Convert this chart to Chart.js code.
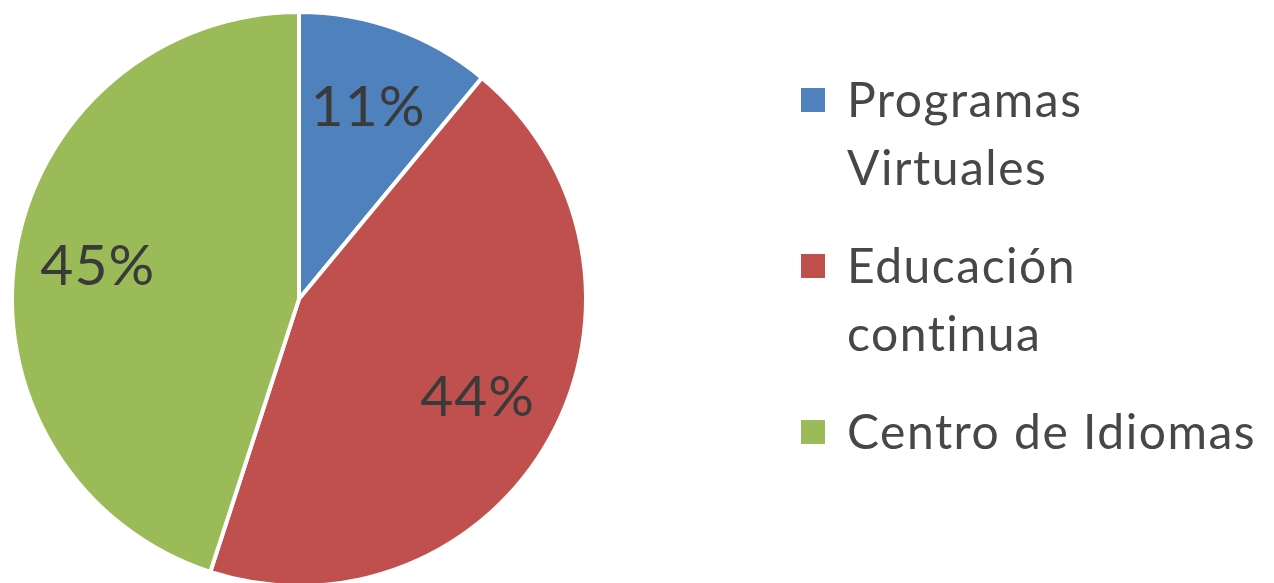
<!DOCTYPE html>
<html>
<head>
<meta charset="utf-8">
<script src="https://cdn.jsdelivr.net/npm/chart.js@4/dist/chart.umd.min.js"></script>
<style>
  html, body { margin: 0; padding: 0; background: #fff; overflow: hidden; }
  #wrap { position: relative; width: 1274px; height: 595px; }
</style>
</head>
<body>
<div id="wrap"><canvas id="myChart-pie"></canvas></div>
<script>
// categories (legend lines) and shares in percent
const labels = [
  ['Programas', 'Virtuales'],
  ['Educación', 'continua'],
  ['Centro de Idiomas']
];
const shares = [11, 44, 45];
const colors = ['#4f81bd', '#c0504d', '#9bbb59'];

// percent labels inside each slice
const sliceLabels = {
  id: 'sliceLabels',
  afterDatasetsDraw(chart) {
    const ctx = chart.ctx;
    const meta = chart.getDatasetMeta(0);
    ctx.save();
    ctx.font = '57px Lato';
    ctx.letterSpacing = '1px';
    ctx.fillStyle = '#3a3a3a';
    ctx.textAlign = 'center';
    ctx.textBaseline = 'middle';
    meta.data.forEach((arc, i) => {
      const p = arc.getProps(['x', 'y', 'startAngle', 'endAngle', 'outerRadius']);
      const mid = (p.startAngle + p.endAngle) / 2;
      const r = p.outerRadius * 0.71;
      ctx.fillText(shares[i] + '%', p.x + Math.cos(mid) * r, p.y + Math.sin(mid) * r);
    });
    ctx.restore();
  }
};

// legend on the right, with wrapped lines
const sideLegend = {
  id: 'sideLegend',
  afterDraw(chart) {
    const ctx = chart.ctx;
    const box = 24, boxX = 801, textX = 847, lineH = 68, gap = 30;
    let y = 100;
    ctx.save();
    ctx.font = '48px Lato';
    ctx.letterSpacing = '1.5px'; // also keeps "ti" from joining
    ctx.textBaseline = 'alphabetic';
    ctx.textAlign = 'left';
    labels.forEach((lines, i) => {
      ctx.fillStyle = colors[i];
      ctx.fillRect(boxX, y - box / 2, box, box);
      ctx.fillStyle = '#474747';
      lines.forEach((t, j) => ctx.fillText(t, textX, y + 17 + j * lineH));
      y += lines.length * lineH + gap;
    });
    ctx.restore();
  }
};

new Chart(document.getElementById('myChart-pie').getContext('2d'), {
  type: 'pie',
  data: {
    labels: labels.map(l => l.join(' ')),
    datasets: [{
      data: shares,
      backgroundColor: colors,
      borderColor: '#ffffff',
      borderWidth: 4
    }]
  },
  options: {
    responsive: true,
    maintainAspectRatio: false,
    animation: false,
    layout: { padding: { left: 10, top: 10, right: 686, bottom: 7 } },
    plugins: {
      legend: { display: false },
      tooltip: { enabled: false }
    }
  },
  plugins: [sliceLabels, sideLegend]
});
</script>
</body>
</html>
